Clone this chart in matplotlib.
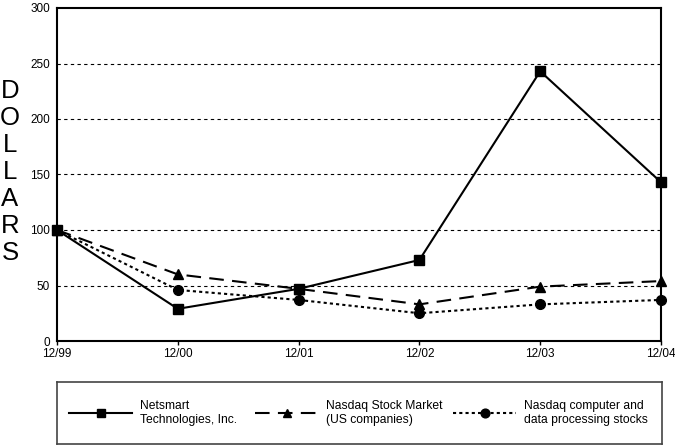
import matplotlib.pyplot as plt

# data
periods = ['12/99', '12/00', '12/01', '12/02', '12/03', '12/04']
netsmart = [100, 29, 47, 73, 243, 143]
nasdaq_market = [100, 60, 47, 33, 49, 54]
nasdaq_computer = [100, 46, 37, 25, 33, 37]
labels = ['Netsmart\nTechnologies, Inc.',
          'Nasdaq Stock Market\n(US companies)',
          'Nasdaq computer and\ndata processing stocks']

plt.rcParams['font.family'] = ['Liberation Sans', 'DejaVu Sans']

W, H = 675, 445
fig = plt.figure(figsize=(W / 100, H / 100), dpi=100)
ax = fig.add_axes([57 / W, 1 - 341 / H, 604 / W, 333 / H])

x = list(range(len(periods)))
h1, = ax.plot(x, netsmart, color='black', lw=1.5, ls='-',
              marker='s', ms=7, clip_on=False, zorder=5)
h2, = ax.plot(x, nasdaq_market, color='black', lw=1.5, ls=(0, (7, 4)),
              marker='^', ms=7, clip_on=False, zorder=4)
h3, = ax.plot(x, nasdaq_computer, color='black', lw=1.5, ls=(0, (1.5, 1.5)),
              marker='o', ms=7, clip_on=False, zorder=3)

ax.set_xlim(0, 5)
ax.set_ylim(0, 300)
ax.set_xticks(x)
ax.set_xticklabels(periods, fontsize=8.5)
ax.set_yticks(range(0, 301, 50))
ax.tick_params(axis='y', length=0, labelsize=8.5, pad=5)
ax.tick_params(axis='x', length=3, width=1, direction='out', pad=2)
for y in range(50, 300, 50):
    ax.axhline(y, color='black', lw=0.8, ls=(0, (3, 3)), zorder=1)
for s in ax.spines.values():
    s.set_linewidth(1.5)

fig.text(10 / W, 1 - 172 / H, '\n'.join('DOLLARS'), ha='center', va='center',
         fontsize=18.5, linespacing=1.15)

# legend box
lax = fig.add_axes([57 / W, 1 - 444 / H, 605 / W, 62 / H])
lax.set_xticks([])
lax.set_yticks([])
for s in lax.spines.values():
    s.set_linewidth(1.2)
    s.set_edgecolor('#444444')

fs = 8.7
hl = 63 / (fs * 100 / 72)
tp = 8 / (fs * 100 / 72)
for h, lab, x0 in zip([h1, h2, h3], labels, [69, 255, 453]):
    leg = fig.legend([h], [lab], loc='center left',
                     bbox_to_anchor=(x0 / W, 1 - 413 / H), frameon=False,
                     fontsize=fs, handlelength=hl, handletextpad=tp,
                     borderpad=0, borderaxespad=0, markerscale=0.9)

fig.savefig('out.png', dpi=100, facecolor='white')
